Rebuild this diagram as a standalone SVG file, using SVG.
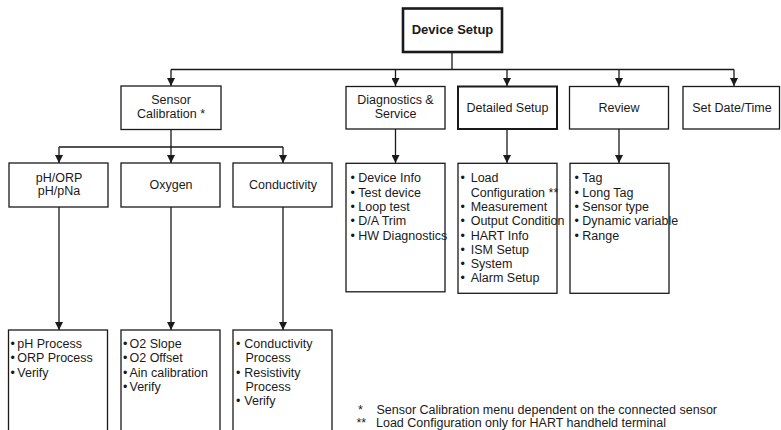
<svg xmlns="http://www.w3.org/2000/svg" width="781" height="430" viewBox="0 0 781 430">
<defs>
<style>
.bx{fill:#fff;stroke:#1a1a1a;stroke-width:1.3}
.thick{stroke-width:2.6}
.med{stroke-width:2}
.ln{fill:none;stroke:#1a1a1a;stroke-width:1.3}
text{font-family:"Liberation Sans Narrow","Liberation Sans",Arial,sans-serif;font-size:12.5px;fill:#1a1a1a}
.c{text-anchor:middle}
.b{font-weight:bold;font-size:13px}
</style>
<marker id="ah" viewBox="0 0 8 8" refX="8" refY="4" markerWidth="8" markerHeight="8" markerUnits="userSpaceOnUse" orient="auto">
<path d="M0,0 L8,4 L0,8 Z" fill="#1a1a1a"/>
</marker>
</defs>
<rect width="781" height="430" fill="#fff"/>

<g id="connectors">
<path class="ln" d="M452,52 V69.5 M171,69.5 H734"/>
<path class="ln" d="M171,69.5 V86" marker-end="url(#ah)"/>
<path class="ln" d="M395.5,69.5 V86" marker-end="url(#ah)"/>
<path class="ln" d="M507,69.5 V86" marker-end="url(#ah)"/>
<path class="ln" d="M619,69.5 V86" marker-end="url(#ah)"/>
<path class="ln" d="M734,69.5 V86" marker-end="url(#ah)"/>
<path class="ln" d="M171,129.5 V147 M59,147 H283"/>
<path class="ln" d="M59,147 V163" marker-end="url(#ah)"/>
<path class="ln" d="M171,147 V163" marker-end="url(#ah)"/>
<path class="ln" d="M283,147 V163" marker-end="url(#ah)"/>
<path class="ln" d="M59,207 V330" marker-end="url(#ah)"/>
<path class="ln" d="M171,207 V330" marker-end="url(#ah)"/>
<path class="ln" d="M283,207 V330" marker-end="url(#ah)"/>
<path class="ln" d="M395.5,129 V163" marker-end="url(#ah)"/>
<path class="ln" d="M507,129 V163" marker-end="url(#ah)"/>
<path class="ln" d="M619,129 V163" marker-end="url(#ah)"/>
</g>

<g id="device-setup">
<rect class="bx thick" x="403" y="8.5" width="99" height="43.5"/>
<text class="c b" x="452.5" y="33.5">Device Setup</text>
</g>

<g id="sensor-calibration">
<rect class="bx" x="121" y="86" width="100" height="43.5"/>
<text class="c" x="171" y="103.5">Sensor</text>
<text class="c" x="171" y="118">Calibration *</text>
</g>

<g id="diagnostics-service">
<rect class="bx" x="346" y="86.5" width="99" height="42.5"/>
<text class="c" x="395.5" y="103.5">Diagnostics &amp;</text>
<text class="c" x="395.5" y="118">Service</text>
</g>

<g id="detailed-setup">
<rect class="bx med" x="458" y="86.5" width="99" height="42.5"/>
<text class="c" x="507.5" y="112">Detailed Setup</text>
</g>

<g id="review">
<rect class="bx" x="569.5" y="86.5" width="99" height="42.5"/>
<text class="c" x="619" y="112">Review</text>
</g>

<g id="set-date-time">
<rect class="bx" x="683" y="86.5" width="96.5" height="42.5"/>
<text class="c" x="732" y="112">Set Date/Time</text>
</g>

<g id="ph-orp">
<rect class="bx" x="9" y="163" width="99" height="44"/>
<text class="c" x="59" y="181.5">pH/ORP</text>
<text class="c" x="59" y="195">pH/pNa</text>
</g>

<g id="oxygen">
<rect class="bx" x="121" y="163" width="99" height="44"/>
<text class="c" x="171" y="188.5">Oxygen</text>
</g>

<g id="conductivity">
<rect class="bx" x="233" y="163" width="99" height="44"/>
<text class="c" x="283" y="188.5">Conductivity</text>
</g>

<g id="diagnostics-list">
<rect class="bx" x="346" y="163.3" width="99" height="128.5"/>
<text x="350.5" y="182.3">•</text><text x="358.3" y="182.3">Device Info</text>
<text x="350.5" y="196.6">•</text><text x="358.3" y="196.6">Test device</text>
<text x="350.5" y="210.9">•</text><text x="358.3" y="210.9">Loop test</text>
<text x="350.5" y="225.2">•</text><text x="358.3" y="225.2">D/A Trim</text>
<text x="350.5" y="239.5">•</text><text x="358.3" y="239.5">HW Diagnostics</text>
</g>

<g id="detailed-list">
<rect class="bx" x="458" y="163.3" width="99" height="130"/>
<text x="460.5" y="182.3">•</text><text x="470.7" y="182.3">Load</text>
<text x="470.7" y="196.6">Configuration **</text>
<text x="460.5" y="210.9">•</text><text x="470.7" y="210.9">Measurement</text>
<text x="460.5" y="225.2">•</text><text x="470.7" y="225.2">Output Condition</text>
<text x="460.5" y="239.5">•</text><text x="470.7" y="239.5">HART Info</text>
<text x="460.5" y="253.8">•</text><text x="470.7" y="253.8">ISM Setup</text>
<text x="460.5" y="268.1">•</text><text x="470.7" y="268.1">System</text>
<text x="460.5" y="282.4">•</text><text x="470.7" y="282.4">Alarm Setup</text>
</g>

<g id="review-list">
<rect class="bx" x="570" y="163.3" width="99" height="130"/>
<text x="574.5" y="182.3">•</text><text x="582.3" y="182.3">Tag</text>
<text x="574.5" y="196.6">•</text><text x="582.3" y="196.6">Long Tag</text>
<text x="574.5" y="210.9">•</text><text x="582.3" y="210.9">Sensor type</text>
<text x="574.5" y="225.2">•</text><text x="582.3" y="225.2">Dynamic variable</text>
<text x="574.5" y="239.5">•</text><text x="582.3" y="239.5">Range</text>
</g>

<g id="ph-list">
<rect class="bx" x="8.5" y="330" width="99" height="110"/>
<text x="10.5" y="348">•</text><text x="17.3" y="348">pH Process</text>
<text x="10.5" y="362.3">•</text><text x="17.3" y="362.3">ORP Process</text>
<text x="10.5" y="376.6">•</text><text x="17.3" y="376.6">Verify</text>
</g>

<g id="oxygen-list">
<rect class="bx" x="121" y="330" width="99" height="110"/>
<text x="123" y="348">•</text><text x="129.5" y="348">O2 Slope</text>
<text x="123" y="362.3">•</text><text x="129.5" y="362.3">O2 Offset</text>
<text x="123" y="376.6">•</text><text x="129.5" y="376.6">Ain calibration</text>
<text x="123" y="390.9">•</text><text x="129.5" y="390.9">Verify</text>
</g>

<g id="conductivity-list">
<rect class="bx" x="233" y="330" width="99" height="110"/>
<text x="236" y="348">•</text><text x="244.3" y="348">Conductivity</text>
<text x="245.5" y="362.3">Process</text>
<text x="236" y="376.6">•</text><text x="244.3" y="376.6">Resistivity</text>
<text x="245.5" y="390.9">Process</text>
<text x="236" y="405.2">•</text><text x="244.3" y="405.2">Verify</text>
</g>

<g id="footnotes">
<text x="358" y="414">*</text><text x="376.5" y="414">Sensor Calibration menu dependent on the connected sensor</text>
<text x="356.5" y="427">**</text><text x="376" y="427">Load Configuration only for HART handheld terminal</text>
</g>
</svg>
